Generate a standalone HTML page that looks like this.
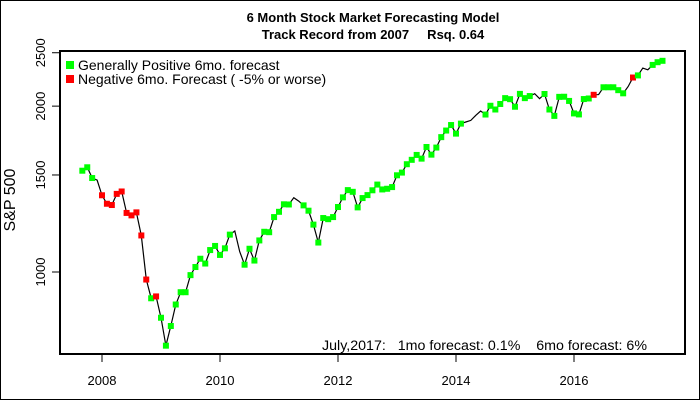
<!DOCTYPE html>
<html><head><meta charset="utf-8"><style>
body{margin:0;background:#fff}
svg{display:block;font-family:"Liberation Sans",Arial,sans-serif}
</style></head><body>
<svg id="c" width="700" height="400" xmlns="http://www.w3.org/2000/svg">
<rect x="0.5" y="0.5" width="699" height="399" fill="#fff" stroke="#000"/>
<text x="373" y="22" text-anchor="middle" font-size="13" font-weight="bold">6 Month Stock Market Forecasting Model</text>
<text x="373" y="39" text-anchor="middle" font-size="13" font-weight="bold" xml:space="preserve">Track Record from 2007     Rsq. 0.64</text>
<text transform="translate(15,200) rotate(-90)" text-anchor="middle" font-size="16">S&amp;P 500</text>
<g id="axes"></g>
<g id="series"></g>
<rect x="60" y="51" width="625" height="303" fill="none" stroke="#000" stroke-width="2"/>
<g>
<rect x="66" y="61" width="8" height="8" fill="#00ff00"/>
<text x="78" y="70" font-size="14">Generally Positive 6mo. forecast</text>
<rect x="66" y="75" width="8" height="8" fill="#ff0000"/>
<text x="78" y="84" font-size="14">Negative 6mo. Forecast ( -5% or worse)</text>
</g>
<text x="322" y="350" font-size="13.5" textLength="325" lengthAdjust="spacingAndGlyphs" xml:space="preserve">July,2017:   1mo forecast: 0.1%    6mo forecast: 6%</text>
</svg>
<script>
const startYear = 2007, startMonth = 9;
const values = [1527,1549,1481,1468,
1378,1330,1323,1386,1400,1280,1267,1283,1165,969,896,903,
826,735,798,873,919,919,987,1021,1057,1036,1096,1115,
1074,1104,1169,1187,1089,1031,1102,1049,1141,1183,1181,1258,
1286,1327,1326,1364,1345,1321,1292,1219,1131,1253,1247,1258,
1312,1366,1408,1398,1310,1362,1379,1407,1441,1412,1416,1426,
1498,1515,1569,1598,1631,1606,1686,1633,1682,1757,1806,1848,
1783,1859,1872,1884,1924,1960,1931,2003,1972,2018,2068,2059,
1995,2105,2068,2086,2107,2063,2104,1972,1920,2079,2080,2044,
1940,1932,2060,2065,2097,2099,2164,2164,2164,2138,2110,2170,
2254,2274,2345,2328,2376,2403,2417];
const signals = ("gggn"+"rrrrrrrrrrgr"+"gggggggggggg"+"gggnnggggggg"+"gggnnggggggg"+"gggggggggggg"+"gggggggggggg"+"ggnnnngggggg"+"ggggnngggggg"+"ggggrngggggn"+"rgnnggg").split("");
const xTicks = [2008,2010,2012,2014,2016];
const yTicks = [1000,1500,2000,2500];
const NS="http://www.w3.org/2000/svg";
function xs(t){return 102+(t-2008)*59;}
function ys(v){return 272-551*Math.log10(v/1000);}
function mk(tag,attrs,parent){const e=document.createElementNS(NS,tag);for(const k in attrs)e.setAttribute(k,attrs[k]);parent.appendChild(e);return e;}
const axes=document.getElementById('axes'), series=document.getElementById('series');
xTicks.forEach(t=>{
  const l=mk('line',{x1:xs(t),x2:xs(t),y1:354,y2:362,stroke:'#000'},axes);
  
  
  const tx=mk('text',{x:xs(t),y:385,'text-anchor':'middle','font-size':'13'},axes);
  tx.textContent=t;
  
  
});
yTicks.forEach(v=>{
  const l=mk('line',{x1:52,x2:60,y1:ys(v),y2:ys(v),stroke:'#000'},axes);
  
  
  const tx=mk('text',{transform:`translate(45,${ys(v)}) rotate(-90)`,'text-anchor':'middle','font-size':'13'},axes);
  tx.textContent=v;
  
  
});
const tOf=i=>startYear+(startMonth-1+i)/12;
const pts=values.map((v,i)=>xs(tOf(i)).toFixed(1)+','+ys(v).toFixed(1)).join(' ');
const pl=mk('polyline',{points:pts,fill:'none',stroke:'#000','stroke-width':'1.2'},series);


values.forEach((v,i)=>{
  const s=signals[i];
  if(s!=='g'&&s!=='r')return;
  const r=mk('rect',{x:xs(tOf(i))-3,y:ys(v)-3,width:6,height:6,fill:s==='g'?'#00ff00':'#ff0000'},series);
  
  
});
</script>
</body></html>
